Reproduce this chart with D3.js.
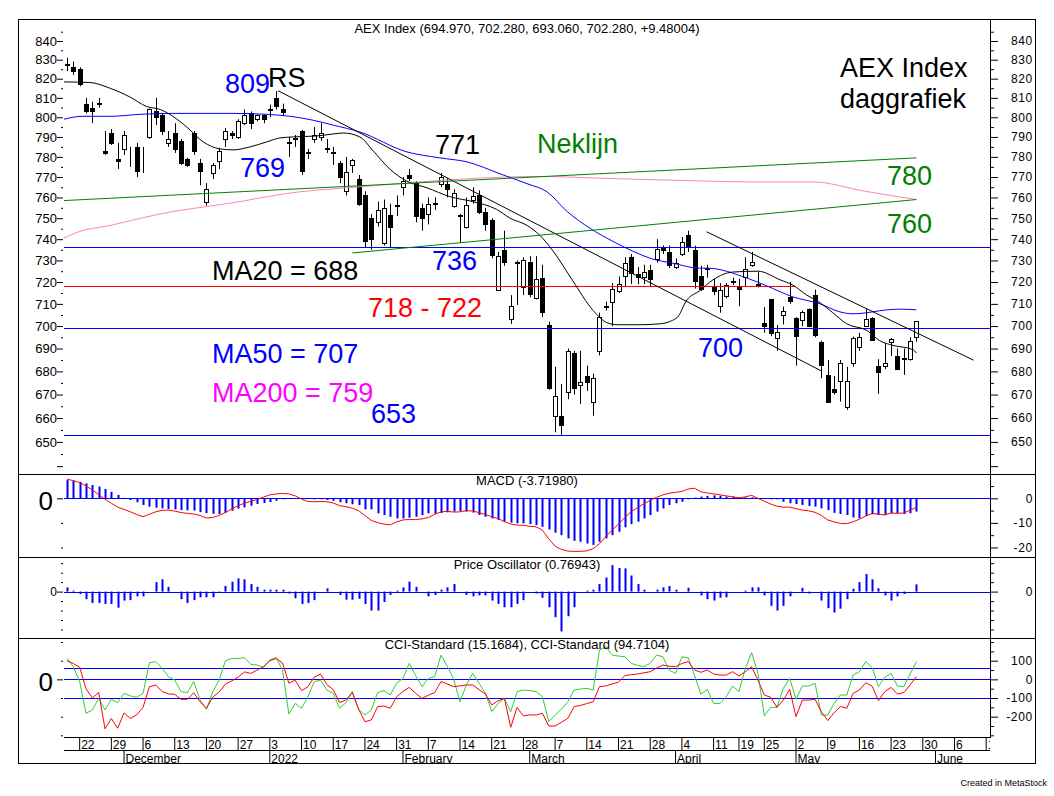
<!DOCTYPE html>
<html>
<head>
<meta charset="utf-8">
<script src="https://cdn.jsdelivr.net/npm/d3@7"></script>
<style>
  body { margin: 0; background: #fff; }
  svg { display: block; }
  text { font-family: "Liberation Sans", Arial, sans-serif; }
</style>
</head>
<body>
<svg id="chart" width="1054" height="796"></svg>
<script>
// ---- trading calendar ----
const firstDay = Date.UTC(2021, 10, 18);
const lastAxisDay = Date.UTC(2022, 5, 17);
const holidays = ["2022-04-15", "2022-04-18"];
const monthNames = ["2022", "February", "March", "April", "May", "June", "July", "August", "September", "October", "November", "December"];

// ---- AEX daily candles [open, high, low, close] ----
const ohlc = [
  [827,831,824,827.5],[826,829,822,824],[825,826,816,817],[807,810,802,803],[805,808,797,803],
  [807,810,805,807.5],[783,793,781,782],[792,794,786,787],[779,787,774,778],[784,793,781,791],
  [780,785,775,780],[785,787,770,773],[779,785,772,779],[790,804.5,789,804],[803,810,796,800],
  [801,802,791,793],[787,793,785,789],[792,797,782,784],[788,789,776,777],[779,779.5,775,776],
  [792,793,781,783],[777,779,766,773],[758,767,756,764],[772,777,769,776],[778,784.5,774,783],
  [789,794.5,785,793],[792,793,789,791],[790,799,789,798],[797,804,796,801],[802,803,794,797],
  [799,801.5,798,801],[801,801.5,797,799],[803.5,806.5,800,804.5],[810,813.5,804,806],[804,807,801,802.5],
  [787,790,780,787.3],[789,791,785,789.3],[793,793.5,771,773],[782.5,784,779,782],[789,795,787,791],
  [790,797,788,792],[784,789,782,784.3],[782.5,785,776,782],[777,778,767,770],[763,780,761,772.5],
  [776,779,772,778.5],[769,771,756,757],[761,763,736,739],[750,752,735,740],[748,758,746,754],
  [738,759,737,755],[751.5,757,736,746],[756.5,761,751,756],[765,770,761,768],[771,774,768,769.5],
  [767,768,748,751],[755,757,744,750],[752,760,747,757],[757,760,754,757.5],[766.5,772,765,770],
  [766.5,769.5,760,764],[756,764,755,762],[751,752,738.5,751.3],[746,760,745,756.5],[759,765,757,760.5],
  [761,763.5,752,753],[753,755,744,747],[749,750,731,732.5],[716.5,734,716,732],[735,744,727.5,729.5],
  [703,714,701,709],[729,730,709.5,729.5],[717.5,731.5,714,730],[729.5,732,713,714.5],[712.5,732,712,721.5],
  [722,728,704,706.5],[700.5,702,672,673],[661,682,654,669.5],[661,674.5,653,657],[671,690,668,689],
  [688,689,670,673],[674,689,666,675.5],[678,682.5,671.5,675.5],[667,679,661,677],[689,706,687,704],
  [708.5,711,707,709],[711,719.5,700,717],[716,722.5,715,719],[723,731.5,718,729],[731.5,733,719,724],
  [723.5,727,719,722.5],[722.5,728,719,724.7],[725.5,728,718,721.5],[730.5,740,729,735.5],[736,737,733,735],
  [734,737,726.5,728],[727,731,726,729],[733,741,732,738.5],[742,744,734,737],[735,737,717,720.5],
  [723,727.5,716,717],[726,728,722,726.5],[718,721.5,714,716],[709,719.5,706,716.5],[713.5,719.5,712.5,718.5],
  [720,722,718.5,720.5],[717.5,721.5,709,717],[722.5,731.5,718,726],[728,734,727,729.5],[719,724.5,717.5,718.5],
  [701.5,708.5,697,700],[712,712,695.5,697],[694.7,700.5,689,697.3],[704.8,708.8,700.7,706.8],[713,720,710,711.3],
  [703.5,704,682.5,695.5],[702.8,707,700,706.5],[707.5,708,699.5,700.1],[714,716.5,695,696],[693,693.5,677,682.6],
  [678.5,685,666.5,667],[672.5,678,670,671],[676,685,667,683.5],[664.5,682,663.5,675.8],[683.5,695.3,682,694.8],
  [690.7,697,689,695.3],[700.2,707.7,699.5,703.3],[703.6,704,693.5,694],[682.5,685.3,670.3,679.6],[682.2,692.5,681,683.6],
  [693,694.7,686.7,694.3],[686.7,690,680.5,681],[685.5,690,678.5,686],[685.5,695,684.7,693.5],[694.97,702.28,693.06,702.28]
];

// moving averages as [day index, value]
const ma20 = [[-0.5,818.3],[3.6,818],[6.8,815],[9.9,810.5],[12.6,805.5],[14.7,804],[16.7,800.5],[18.9,795],
  [21.5,787.5],[24.1,784],[26.2,783.5],[28.9,785],[31.5,787.5],[33.6,789.5],[35.6,790],[39.4,790.5],[42,791.5],
  [43.6,792],[46.2,790],[48.3,783],[50.9,774],[53.6,768],[56.8,764.7],[60.4,760.4],[64,758],[67.8,754.2],
  [69.9,750],[72.6,746.5],[74.6,741.8],[76.7,734.3],[79.8,720.5],[83,707],[85.2,701.5],[86.8,700.6],[90.4,700.6],
  [93.5,701],[96.2,703.7],[97.8,711.8],[99.8,716],[101.9,721],[105,724.6],[109,725],[112.5,721],[114.5,718.6],
  [116.7,714],[118.8,710.5],[120.8,706],[123,701],[126.2,698],[128.2,693.5],[130.3,691.4],[133.4,689.6],[134,688]];
const ma50 = [[-0.5,799],[2.5,800.5],[6.8,800.5],[11.5,801.5],[16.7,802],[21,802],[26.2,802],[31.5,801.5],
  [35.2,800.5],[38.8,798.5],[42,796],[46.2,792.5],[53.6,782.5],[58.8,779.5],[63.1,777.5],[68.3,771.6],[72.6,766.7],
  [75.7,762.8],[78.9,753.2],[82.5,745.2],[86.1,739],[89.3,734.3],[92,731],[95.6,728.7],[99.8,726.4],[101,726.4],
  [107.3,721.8],[110.4,718.2],[114.5,713.2],[118.8,710],[121.9,706.4],[124,705.5],[126.2,706],[128.2,706.9],
  [131.4,707.6],[134,707.3]];
const ma200 = [[-0.5,740.5],[2,743.7],[6.8,746.5],[11.5,749.9],[16.7,753.2],[22.1,755.6],[27.3,758],[32.5,760.9],
  [36.8,762.8],[42,764.2],[46.2,765.2],[55.7,767.6],[64,769.3],[74.6,770.3],[85.2,769.3],[99.8,768.1],[107.3,767.6],
  [117.7,767.6],[125.6,763.2],[134,759]];

// support / resistance levels and trend lines
const levels = [
  { value: 736.5, color: "#0000ff", end: null },
  { value: 718, color: "#ff0000", end: 114.8 },
  { value: 699, color: "#0000ff", end: null },
  { value: 653, color: "#0000ff", end: null }
];
const trends = [
  { a: [33.3, 813.7], b: [119, 680.2], color: "#000000" },
  { a: [100.9, 743.5], b: [143, 684.9], color: "#000000" },
  { a: [-0.5, 758.5], b: [134, 779.5], color: "#008000" },
  { a: [45, 733.5], b: [134, 759], color: "#008000" }
];

// MACD panel
const macdLine = [
  7.8,7.2,6.4,5.0,3.4,1.5,-0.4,-2.0,-3.6,-4.5,
  -5.5,-6.6,-7.5,-6.5,-5.5,-4.9,-4.8,-5.2,-5.8,-6.1,
  -6.4,-7.0,-8.0,-7.8,-7.0,-5.8,-4.3,-3.0,-2.0,-1.2,
  -0.5,0.5,1.4,1.8,2.0,1.8,1.0,-0.3,-1.3,-1.4,
  -1.3,-1.4,-1.9,-3.0,-3.4,-4.0,-5.0,-7.0,-9.0,-9.9,
  -10.5,-10.8,-9.6,-8.8,-8.6,-8.6,-8.4,-7.8,-6.5,-5.5,
  -5.3,-5.6,-5.5,-5.0,-5.2,-5.8,-6.6,-7.5,-8.2,-9.5,
  -10.5,-10.9,-11.0,-11.4,-11.6,-13.0,-16.5,-19.5,-20.8,-21.5,
  -21.6,-21.6,-21.4,-20.5,-18.5,-15.5,-13.0,-10.5,-7.8,-5.4,
  -3.8,-2.2,-0.8,0.4,1.4,2.1,2.4,2.8,3.8,4.1,
  2.6,2.2,1.8,1.4,1.0,0.6,0.2,0.6,1.2,0.0,
  -1.2,-2.3,-3.2,-3.6,-3.6,-4.2,-4.8,-5.1,-5.7,-7.0,
  -8.8,-9.6,-10.2,-10.3,-9.6,-8.5,-7.2,-6.2,-6.4,-6.8,
  -6.0,-6.1,-6.0,-4.8,-3.7198];
const macdBars = [
  7.5,7.2,6.7,6.1,5.4,4.8,3.8,2.6,1.4,0.2,
  -0.7,-1.6,-2.7,-3.4,-3.8,-4.1,-4.4,-4.5,-4.8,-4.9,
  -5.0,-5.6,-6.0,-6.3,-6.4,-5.9,-5.0,-4.2,-3.7,-3.0,
  -2.3,-1.9,-1.5,-1.0,-0.4,-0.1,0,0,-0.1,-0.4,
  -0.4,-0.7,-1.0,-1.6,-2.0,-2.4,-2.7,-4.5,-4.5,-6.1,
  -6.8,-7.5,-8.2,-8.2,-7.9,-7.5,-6.8,-6.1,-6.3,-6.0,
  -5.7,-5.4,-5.2,-5.4,-5.8,-6.8,-7.5,-8.2,-8.8,-9.5,
  -9.9,-10.2,-10.2,-10.5,-10.9,-11.6,-12.7,-14.0,-15.0,-16.3,
  -17.3,-17.7,-18.4,-19.0,-17.7,-16.3,-15.0,-13.6,-11.8,-10.5,
  -9.5,-8.2,-6.8,-5.4,-4.1,-2.7,-2.0,-1.4,-0.4,0.3,
  0.7,1.0,1.2,1.0,0.7,0.7,0.4,0.4,0.4,0,
  -0.3,-0.4,-0.4,-1.4,-2.0,-2.3,-2.7,-3.1,-3.4,-4.1,
  -4.8,-5.9,-6.4,-6.8,-7.8,-8.2,-7.2,-6.5,-6.8,-6.8,
  -6.1,-6.1,-6.4,-6.1,-5.4];

// Price Oscillator panel
const priceOsc = [
  0.45,0.1,-0.25,-0.8,-1.2,-1.2,-1.3,-1.3,-1.7,-0.95,
  -0.9,-0.5,-0.5,0,1.0,1.3,0.5,0,-0.8,-1.2,
  -0.9,-0.6,-0.6,-0.6,-0.1,0.6,1.05,1.4,1.3,0.8,
  0.5,0.2,0.2,0.2,0.2,-0.2,-0.7,-1.3,-1.2,-0.9,
  0,0.35,0,-0.35,-0.85,-0.85,-0.75,-1.3,-2.0,-2.0,
  -1.1,-0.35,0.1,0.45,1.05,0.5,0,-0.5,-0.35,0.2,
  0.45,0.8,0,-0.35,-0.5,-0.4,-0.4,-0.95,-1.3,-1.65,
  -1.65,-1.3,-0.9,0,-0.2,-0.65,-1.65,-2.7,-4.2,-2.6,
  -1.65,0,0.1,0.2,0.8,1.5,2.8,2.5,2.45,1.7,
  0.8,0.2,0,0.2,0.45,0.6,0.2,0,0.4,0,
  -0.4,-0.8,-0.95,-0.65,-0.6,0,0,0.1,0.45,0.45,
  -0.4,-1.5,-2.0,-1.5,-0.5,0,0.4,-0.2,0,-0.95,
  -1.75,-2.2,-1.8,-0.8,0.3,1.0,1.85,1.3,0.35,-0.4,
  -0.95,-0.5,-0.25,0,0.76943];

// CCI panel
const cciShort = [
  100,85,65,-50,-100,-70,-265,-210,-262,-180,
  -210,-190,-150,-40,-30,-65,-78,-80,-107,-107,
  -72,-120,-155,-95,-68,-25,-8,12,40,32,
  50,68,100,112,88,-20,-5,-60,-40,12,
  28,-28,-55,-125,-110,-70,-160,-227,-218,-146,
  -143,-155,-93,-65,-43,-75,-102,-85,-71,-12,
  -25,-39,-35,-30,-30,-55,-79,-137,-115,-102,
  -257,-150,-196,-190,-191,-182,-250,-250,-230,-209,
  -146,-140,-130,-120,-39,-35,-25,-15,20,25,
  29,35,41,60,77,70,68,85,95,50,
  38,50,29,23,23,41,18,41,68,-4,
  -84,-96,-150,-111,-54,-200,-111,-111,-107,-173,
  -221,-179,-146,-155,-75,-57,-18,-36,-114,-66,
  -43,-79,-71,-30,15.1684];
const cciLong = [
  112,68,-12,-182,-164,-102,-164,-107,-125,-75,
  -89,-96,-75,89,95,59,14,-4,-66,-71,
  -12,-111,-161,-66,-4,100,112,112,116,80,
  77,64,104,116,50,-186,-129,-155,-93,-12,
  -4,-57,-75,-155,-125,-66,-160,-191,-164,-71,
  -60,-84,-20,5,86,20,-39,5,14,130,
  70,0,-120,-30,32,-20,-75,-173,-130,-102,
  -173,-66,-57,-60,-66,-93,-227,-191,-160,-120,
  -57,-52,-48,-57,157,175,130,125,121,86,
  75,68,86,130,121,50,32,121,115,20,
  -80,-54,-129,-129,-93,-36,-66,59,143,32,
  -196,-150,-150,-48,5,-107,-36,-36,-21,-191,
  -191,-129,-84,-84,23,41,95,64,-39,11,
  32,-36,-39,29,94.7104];
const cciLevels = [60, 0, -100];

const titles = {
  main: "AEX Index (694.970, 702.280, 693.060, 702.280, +9.48004)",
  macd: "MACD (-3.71980)",
  po: "Price Oscillator (0.76943)",
  cci: "CCI-Standard (15.1684), CCI-Standard (94.7104)"
};

// ---------------- drawing ----------------
const svg = d3.select("#chart");
const plotL = 64, plotR = 990;
const frame = { l: 18.5, t: 19.5, r: 1035.5, b: 763.5 };
const panes = { mainB: 474.5, macdB: 557.5, poB: 638.5, cciB: 737 };

const days = [];
for (let t = firstDay; t <= lastAxisDay; t += 864e5) {
  const d = new Date(t), wd = d.getUTCDay();
  if (wd === 0 || wd === 6 || holidays.includes(d.toISOString().slice(0, 10))) continue;
  days.push(d);
}

const x = d3.scaleLinear().domain([-0.47, 145.6]).range([plotL, plotR]);
const yMain = d3.scaleLog().domain([636.6, 851.9]).range([panes.mainB, 19]);
const yMacd = d3.scaleLinear().domain([-24.1, 9.7]).range([panes.macdB, panes.mainB]);
const yPo = d3.scaleLinear().domain([-4.95, 3.6]).range([panes.poB, panes.macdB]);
const yCci = d3.scaleLinear().domain([-309, 219]).range([panes.cciB, panes.poB]);
const px = i => Math.round(x(i)) + 0.5;
const crisp = v => Math.round(v) + 0.5;

const defs = svg.append("defs");
function clip(id, x0, y0, x1, y1) {
  defs.append("clipPath").attr("id", id).append("rect")
    .attr("x", x0).attr("y", y0).attr("width", x1 - x0).attr("height", y1 - y0);
  return "url(#" + id + ")";
}

svg.append("rect").attr("width", 1054).attr("height", 796).attr("fill", "#fff");

// ---- main pane ----
const gMain = svg.append("g").attr("clip-path", clip("cMain", plotL, 19, plotR, panes.mainB));

const candle = gMain.selectAll("g.candle").data(ohlc).enter().append("g");
candle.append("line")
  .attr("x1", (d, i) => px(i)).attr("x2", (d, i) => px(i))
  .attr("y1", d => yMain(d[1])).attr("y2", d => yMain(d[2]))
  .attr("stroke", "#000").attr("stroke-width", 1);
candle.append("rect")
  .attr("x", (d, i) => px(i) - 2)
  .attr("y", d => crisp(yMain(Math.max(d[0], d[3]))))
  .attr("width", 4)
  .attr("height", d => Math.max(0, crisp(yMain(Math.min(d[0], d[3]))) - crisp(yMain(Math.max(d[0], d[3])))))
  .attr("fill", d => d[3] >= d[0] ? "#fff" : "#000")
  .attr("stroke", "#000").attr("stroke-width", 1);

gMain.selectAll("line.level").data(levels).enter().append("line")
  .attr("x1", plotL).attr("x2", d => d.end === null ? plotR : x(d.end))
  .attr("y1", d => crisp(yMain(d.value))).attr("y2", d => crisp(yMain(d.value)))
  .attr("stroke", d => d.color).attr("stroke-width", 1);

const maLine = d3.line().x(d => x(d[0])).y(d => yMain(d[1])).curve(d3.curveMonotoneX);
[[ma200, "#ff80c0"], [ma50, "#0000ff"], [ma20, "#000000"]].forEach(([data, color]) => {
  gMain.append("path").datum(data).attr("d", maLine)
    .attr("fill", "none").attr("stroke", color).attr("stroke-width", 1);
});

gMain.selectAll("line.trend").data(trends).enter().append("line")
  .attr("x1", d => x(d.a[0])).attr("y1", d => yMain(d.a[1]))
  .attr("x2", d => x(d.b[0])).attr("y2", d => yMain(d.b[1]))
  .attr("stroke", d => d.color).attr("stroke-width", 1);

const notes = [
  { t: "809", x: 225, y: 93, c: "#0000ff" },
  { t: "RS", x: 268, y: 87, c: "#000000" },
  { t: "769", x: 240, y: 177, c: "#0000ff" },
  { t: "771", x: 435, y: 154, c: "#000000" },
  { t: "Neklijn", x: 537, y: 153, c: "#008000" },
  { t: "AEX Index", x: 840, y: 77, c: "#000000" },
  { t: "daggrafiek", x: 840, y: 108, c: "#000000" },
  { t: "780", x: 887, y: 185, c: "#008000" },
  { t: "760", x: 887, y: 233, c: "#008000" },
  { t: "MA20 = 688", x: 212, y: 280, c: "#000000" },
  { t: "736", x: 432, y: 270, c: "#0000ff" },
  { t: "718 - 722", x: 368, y: 317, c: "#ff0000" },
  { t: "MA50 = 707", x: 212, y: 363, c: "#0000ff" },
  { t: "MA200 = 759", x: 212, y: 402, c: "#ff00ff" },
  { t: "653", x: 371, y: 423, c: "#0000ff" },
  { t: "700", x: 698, y: 357, c: "#0000ff" }
];
svg.selectAll("text.note").data(notes).enter().append("text")
  .attr("x", d => d.x).attr("y", d => d.y).attr("fill", d => d.c)
  .attr("font-size", 27).text(d => d.t);

// ---- MACD pane ----
const gMacd = svg.append("g").attr("clip-path", clip("cMacd", plotL, panes.mainB, plotR, panes.macdB));
gMacd.append("line").attr("x1", plotL).attr("x2", plotR)
  .attr("y1", crisp(yMacd(0))).attr("y2", crisp(yMacd(0))).attr("stroke", "#0000ff");
gMacd.selectAll("rect.bar").data(macdBars).enter().append("rect")
  .attr("x", (d, i) => px(i) - 1).attr("width", 2)
  .attr("y", d => Math.min(yMacd(d), yMacd(0)))
  .attr("height", d => Math.abs(yMacd(d) - yMacd(0)))
  .attr("fill", "#0000ff");
gMacd.append("path").datum(macdLine)
  .attr("d", d3.line().x((d, i) => x(i)).y(d => yMacd(d)))
  .attr("fill", "none").attr("stroke", "#ff0000").attr("stroke-width", 1);

// ---- Price Oscillator pane ----
const gPo = svg.append("g").attr("clip-path", clip("cPo", plotL, panes.macdB, plotR, panes.poB));
gPo.append("line").attr("x1", plotL).attr("x2", plotR)
  .attr("y1", crisp(yPo(0))).attr("y2", crisp(yPo(0))).attr("stroke", "#0000ff");
gPo.selectAll("rect.bar").data(priceOsc).enter().append("rect")
  .attr("x", (d, i) => px(i) - 1).attr("width", 2)
  .attr("y", d => Math.min(yPo(d), yPo(0)))
  .attr("height", d => Math.abs(yPo(d) - yPo(0)))
  .attr("fill", "#0000ff");

// ---- CCI pane ----
const gCci = svg.append("g").attr("clip-path", clip("cCci", plotL, panes.poB, plotR, panes.cciB));
gCci.selectAll("line.lvl").data(cciLevels).enter().append("line")
  .attr("x1", plotL).attr("x2", plotR)
  .attr("y1", d => crisp(yCci(d))).attr("y2", d => crisp(yCci(d))).attr("stroke", "#0000ff");
[[cciLong, "#33cc33"], [cciShort, "#ff0000"]].forEach(([data, color]) => {
  gCci.append("path").datum(data)
    .attr("d", d3.line().x((d, i) => x(i)).y(d => yCci(d)))
    .attr("fill", "none").attr("stroke", color).attr("stroke-width", 1);
});

// ---- titles ----
[[titles.main, 32.5], [titles.macd, 485], [titles.po, 569], [titles.cci, 649]].forEach(([t, y]) => {
  svg.append("text").attr("x", (plotL + plotR) / 2).attr("y", y)
    .attr("text-anchor", "middle").attr("font-size", 13).attr("fill", "#000").text(t);
});

// ---- y axes ----
function styleAxis(g) {
  g.select(".domain").remove();
  g.selectAll(".tick line").attr("stroke", "#000");
  g.selectAll("text").attr("fill", "#000");
}
function leftAxis(scale, major, minor, labels, fontSize) {
  const g1 = svg.append("g").attr("transform", "translate(63,0)")
    .call(d3.axisLeft(scale).tickValues(major).tickSize(6).tickPadding(0)
      .tickFormat(d => labels.includes(d) ? d : ""));
  g1.selectAll("text").attr("font-size", fontSize).attr("font-family", "Liberation Sans, Arial");
  styleAxis(g1);
  if (minor.length) {
    const g2 = svg.append("g").attr("transform", "translate(63,0)")
      .call(d3.axisLeft(scale).tickValues(minor).tickSize(2).tickFormat(""));
    styleAxis(g2);
  }
}
function rightAxis(scale, major, minor, labels) {
  const g1 = svg.append("g").attr("transform", "translate(990,0)")
    .call(d3.axisRight(scale).tickValues(major).tickSize(8)
      .tickFormat(d => labels.includes(d) ? d : ""));
  g1.selectAll("text").attr("x", 43).attr("text-anchor", "end")
    .attr("font-size", 12).attr("letter-spacing", 0.7).attr("font-family", "Liberation Sans, Arial");
  styleAxis(g1);
  const g2 = svg.append("g").attr("transform", "translate(990,0)")
    .call(d3.axisRight(scale).tickValues(minor).tickSize(4).tickFormat(""));
  styleAxis(g2);
}

const mainMajor = d3.range(640, 841, 10);
const mainMinor = d3.range(645, 850, 10);
const mainLabels = d3.range(650, 841, 10);
leftAxis(yMain, mainMajor, mainMinor, mainLabels, 13);
rightAxis(yMain, mainMajor, mainMinor, mainLabels);

leftAxis(yMacd, [0], [-10, -20], [], 13);
rightAxis(yMacd, [0, -10, -20], [5, -5, -15], [0, -10, -20]);

leftAxis(yPo, [0], [3, 2, 1, -1, -2, -3, -4], [0], 12);
rightAxis(yPo, [0], [3, 2, 1, -1, -2, -3, -4], [0]);

leftAxis(yCci, [0], [200, 100, -100, -200, -300], [], 13);
rightAxis(yCci, [100, 0, -100, -200], [200, 150, 50, -50, -150, -250, -300], [100, 0, -100, -200]);

// big zero labels on the left
[[yMacd(0), 26], [yCci(0), 26]].forEach(([y, fs]) => {
  svg.append("text").attr("x", 53).attr("y", y + 12).attr("text-anchor", "end")
    .attr("font-size", fs).attr("fill", "#000").text("0");
});

// ---- date axis ----
const idx = d3.range(days.length);
const weekStarts = idx.filter(i => i > 0 && +d3.utcMonday.floor(days[i]) !== +d3.utcMonday.floor(days[i - 1]));
const monthStarts = idx.filter(i => i > 0 && days[i].getUTCMonth() !== days[i - 1].getUTCMonth());
const dateClip = clip("cDate", plotL - 1, panes.cciB, plotR, frame.b);

const gWeek = svg.append("g").attr("clip-path", dateClip).append("g")
  .attr("transform", "translate(0," + panes.cciB + ")")
  .call(d3.axisBottom(x).tickValues(weekStarts).tickSize(13)
    .tickFormat(i => days[i].getUTCDate()));
gWeek.select(".domain").remove();
gWeek.selectAll(".tick line").attr("stroke", "#000").attr("transform", "translate(-0.5,0)");
gWeek.selectAll("text").attr("text-anchor", "start").attr("x", 1).attr("y", 12).attr("dy", 0)
  .attr("font-size", 12).attr("fill", "#000");

const gMonth = svg.append("g").attr("clip-path", dateClip).append("g")
  .attr("transform", "translate(0,750)")
  .call(d3.axisBottom(x).tickValues(monthStarts).tickSize(14)
    .tickFormat(i => monthNames[days[i].getUTCMonth()]));
gMonth.select(".domain").remove();
gMonth.selectAll(".tick line").attr("stroke", "#000").attr("transform", "translate(-0.5,0)");
gMonth.selectAll("text").attr("text-anchor", "start").attr("x", 1).attr("y", 12.5).attr("dy", 0)
  .attr("font-size", 12).attr("fill", "#000");

// ---- frame & separators ----
const lines = svg.append("g").attr("stroke", "#000").attr("stroke-width", 1).attr("fill", "none");
lines.append("rect").attr("x", frame.l).attr("y", frame.t)
  .attr("width", frame.r - frame.l).attr("height", frame.b - frame.t);
[panes.mainB, panes.macdB, panes.poB].forEach(y => {
  lines.append("line").attr("x1", frame.l).attr("x2", frame.r).attr("y1", y).attr("y2", y);
});
lines.append("line").attr("x1", plotR + 0.5).attr("x2", plotR + 0.5).attr("y1", frame.t).attr("y2", panes.cciB + 1);
lines.append("line").attr("x1", plotL).attr("x2", plotR).attr("y1", panes.cciB + 0.5).attr("y2", panes.cciB + 0.5);
lines.append("line").attr("x1", plotL).attr("x2", plotR).attr("y1", 750.5).attr("y2", 750.5);

svg.append("text").attr("x", 1047).attr("y", 786).attr("text-anchor", "end")
  .attr("font-size", 9).attr("fill", "#000").text("Created in MetaStock");
</script>
</body>
</html>
